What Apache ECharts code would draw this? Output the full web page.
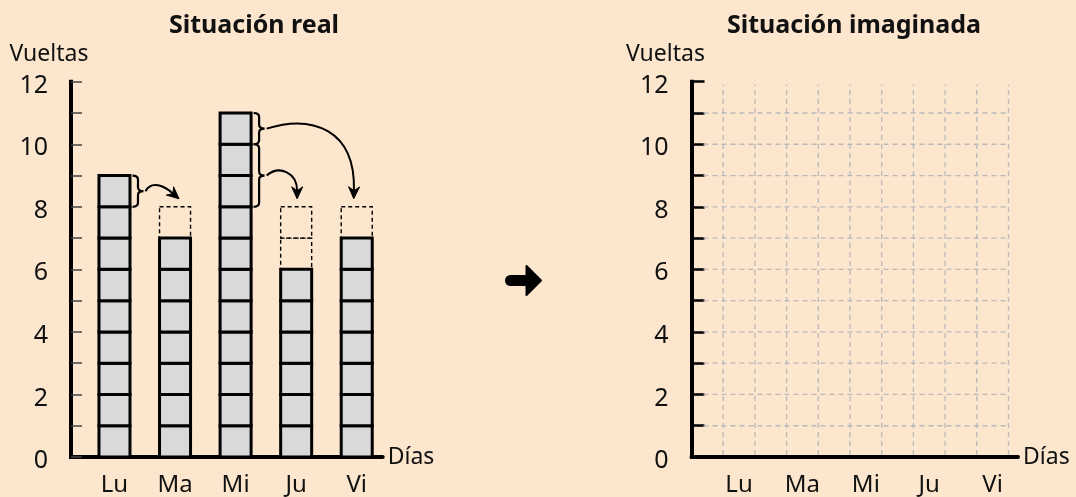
<!DOCTYPE html>
<html><head><meta charset="utf-8">
<script src="https://cdn.jsdelivr.net/npm/echarts@6/dist/echarts.min.js"></script>
<style>html,body{margin:0;padding:0;background:#fce6cd;} #c{width:1076px;height:497px;}</style>
</head><body><div id="c"></div>
<script>
// ---- data ----
const days = ['Lu', 'Ma', 'Mi', 'Ju', 'Vi'];
const realLaps = [9, 7, 11, 6, 7];
const imaginedLaps = [8, 8, 8, 8, 8];
// [fromDay, fromLow, fromHigh, toDay]
const transfers = [
  ['Lu', 8, 9, 'Ma'],
  ['Mi', 10, 11, 'Vi'],
  ['Mi', 8, 10, 'Ju']
];
const yTickLabels = [0, 2, 4, 6, 8, 10, 12];
const gridRows = [1, 2, 3, 4, 5, 6, 7, 8, 9, 10, 11];
const gridCols = [1, 2, 3, 4, 5, 6, 7, 8, 9, 10];

// ---- styles ----
const SANS = "'Noto Sans','Open Sans',sans-serif";
const INK = '#111';
const BAR_RATIO = 0.512;

const chart = echarts.init(document.getElementById('c'), null, {renderer: 'canvas'});

function yAxisCfg(gridIndex, tickColor, tickWidth, tickLen, namePad) {
  return {
    gridIndex, type: 'value', min: 0, max: 12, interval: 1,
    name: 'Vueltas', nameLocation: 'end', nameGap: 16,
    nameTextStyle: {fontFamily: SANS, fontSize: 23, color: INK, align: 'center', padding: [0, namePad, 0, 0]},
    axisLine: {show: true, lineStyle: {color: '#000', width: 4, cap: 'square'}},
    axisTick: {show: true, inside: true, length: tickLen, lineStyle: {color: tickColor, width: tickWidth}},
    axisLabel: {margin: 23, color: INK,
      formatter: v => yTickLabels.includes(v) ? '{n|' + v + '}' : '',
      rich: {n: {fontFamily: SANS, fontSize: 25, color: INK, padding: [8, 0, 0, 0]}}},
    splitLine: {show: false}
  };
}

function xAxisCfg(gridIndex, min, max, labelPositions, toIndex) {
  return {
    gridIndex, type: 'value', min, max,
    name: 'Días', nameLocation: 'end', nameGap: 5,
    nameTextStyle: {fontFamily: SANS, fontSize: 23, color: INK, verticalAlign: 'middle'},
    axisLine: {show: true, onZero: false, lineStyle: {color: '#000', width: 4}},
    axisTick: {show: false},
    splitLine: {show: false},
    axisLabel: {customValues: labelPositions, margin: 16, fontFamily: SANS, fontSize: 24, color: INK,
      formatter: v => days[toIndex(v)] || ''}
  };
}

const leftPositions = days.map((d, i) => i + 1);
const rightPositions = days.map((d, i) => 2 * i + 1.5);

// curve shapes for the transfer arrows (style offsets, px)
const arrowShapes = [
  {endDx: 4, c1: [6, -11], c2: [-15, -13]},
  {endDx: -3, c1: [45, -14], c2: [2, -70]},
  {endDx: 1, c1: [13, -11], c2: [0, -26]}
];

const option = {
  backgroundColor: '#fce6cd',
  animation: false,
  title: [
    {text: 'Situación real', left: 249, top: 8, textAlign: 'center',
      textStyle: {fontFamily: SANS, fontWeight: 'bold', fontSize: 25, color: INK}},
    {text: 'Situación imaginada', left: 849, top: 8, textAlign: 'center',
      textStyle: {fontFamily: SANS, fontWeight: 'bold', fontSize: 25, color: INK}}
  ],
  grid: [
    {left: 71, right: 1076 - 382.7, top: 81.7, bottom: 35, containLabel: false},
    {left: 691.5, right: 58, top: 81.7, bottom: 35, containLabel: false}
  ],
  xAxis: [
    xAxisCfg(0, 0.282, 5.429, leftPositions, v => Math.round(v) - 1),
    xAxisCfg(1, 0, 10.3, rightPositions, v => Math.round((v - 1.5) / 2))
  ],
  yAxis: [
    yAxisCfg(0, '#444', 1.5, 11, 44),
    yAxisCfg(1, '#000', 2.5, 13, 52)
  ],
  graphic: [
    {type: 'group', left: 505, top: 265, children: [
      {type: 'rect', shape: {x: 0, y: 10, width: 25, height: 11, r: 5.5}, style: {fill: '#000'}},
      {type: 'polygon', shape: {points: [[21.5, 1], [36, 15.5], [21.5, 30]]},
        style: {fill: '#000', stroke: '#000', lineWidth: 2, lineJoin: 'round'}}
    ]}
  ],
  series: [
    {
      type: 'custom', xAxisIndex: 0, yAxisIndex: 0, clip: false, z: 3,
      data: days.map((d, i) => [i + 1, realLaps[i], imaginedLaps[i]]),
      renderItem(params, api) {
        const x = api.value(0), real = api.value(1), target = api.value(2);
        const bw = api.size([1, 0])[0] * BAR_RATIO;
        const children = [];
        for (let k = real; k < target; k++) {
          const p0 = api.coord([x, k]), p1 = api.coord([x, k + 1]);
          children.push({type: 'rect', shape: {x: p0[0] - bw / 2, y: p1[1], width: bw, height: p0[1] - p1[1]},
            style: {fill: null, stroke: '#000', lineWidth: 1.4, lineDash: [4, 3]}});
        }
        for (let k = 0; k < real; k++) {
          const p0 = api.coord([x, k]), p1 = api.coord([x, k + 1]);
          children.push({type: 'rect', shape: {x: p0[0] - bw / 2, y: p1[1], width: bw, height: p0[1] - p1[1]},
            style: {fill: '#d9d9d9', stroke: '#000', lineWidth: 3}});
        }
        return {type: 'group', children};
      }
    },
    {
      type: 'custom', xAxisIndex: 0, yAxisIndex: 0, clip: false, z: 4,
      data: transfers.map(t => {
        const to = days.indexOf(t[3]);
        return [days.indexOf(t[0]) + 1, t[1], t[2], to + 1, imaginedLaps[to]];
      }),
      renderItem(params, api) {
        const fx = api.value(0), lo = api.value(1), hi = api.value(2), tx = api.value(3), tgt = api.value(4);
        const shp = arrowShapes[params.dataIndex];
        const bw = api.size([1, 0])[0] * BAR_RATIO;
        const pLo = api.coord([fx, lo]), pHi = api.coord([fx, hi]);
        const x0 = pLo[0] + bw / 2 + 2.5;
        const w = 11, r = 4;
        const yLo = pLo[1], yHi = pHi[1], ym = (yLo + yHi) / 2;
        const xm = x0 + w / 2;
        const brace = `M${x0} ${yHi} Q${xm} ${yHi} ${xm} ${yHi + r} L${xm} ${ym - r} Q${xm} ${ym} ${x0 + w} ${ym} ` +
          `Q${xm} ${ym} ${xm} ${ym + r} L${xm} ${yLo - r} Q${xm} ${yLo} ${x0} ${yLo}`;
        const S = [x0 + w + 2, ym];
        const pT = api.coord([tx, tgt]);
        const E = [pT[0] + shp.endDx, pT[1] - 8];
        const c1 = [S[0] + shp.c1[0], S[1] + shp.c1[1]];
        const c2 = [E[0] + shp.c2[0], E[1] + shp.c2[1]];
        let dx = E[0] - c2[0], dy = E[1] - c2[1];
        const len = Math.hypot(dx, dy); dx /= len; dy /= len;
        const nx = -dy, ny = dx;
        const L = 12, hw = 5.5, notch = 8;
        const B = [E[0] - dx * notch, E[1] - dy * notch];
        const head = [
          E,
          [E[0] - dx * L + nx * hw, E[1] - dy * L + ny * hw],
          B,
          [E[0] - dx * L - nx * hw, E[1] - dy * L - ny * hw]
        ];
        return {type: 'group', children: [
          {type: 'path', shape: {pathData: brace}, style: {fill: null, stroke: '#000', lineWidth: 2.2}},
          {type: 'bezierCurve', shape: {x1: S[0], y1: S[1], cpx1: c1[0], cpy1: c1[1], cpx2: c2[0], cpy2: c2[1], x2: B[0], y2: B[1]},
            style: {fill: null, stroke: '#000', lineWidth: 2}},
          {type: 'polygon', shape: {points: head}, style: {fill: '#000', stroke: '#000', lineWidth: 1}}
        ]};
      }
    },
    {
      type: 'custom', xAxisIndex: 1, yAxisIndex: 1, clip: false, z: 1,
      data: gridRows.map(v => [v]),
      renderItem(params, api) {
        const v = api.value(0);
        const a = api.coord([0, v]), b = api.coord([gridCols[gridCols.length - 1], v]);
        return {type: 'line', shape: {x1: a[0] + 12, y1: a[1], x2: b[0], y2: b[1]},
          style: {stroke: '#b9b9b9', lineWidth: 1.3, lineDash: [5, 4]}};
      }
    },
    {
      type: 'custom', xAxisIndex: 1, yAxisIndex: 1, clip: false, z: 1,
      data: gridCols.map(v => [v]),
      renderItem(params, api) {
        const v = api.value(0);
        const a = api.coord([v, 0]), b = api.coord([v, 11.9]);
        return {type: 'line', shape: {x1: a[0], y1: a[1] - 2, x2: b[0], y2: b[1]},
          style: {stroke: '#b9b9b9', lineWidth: 1.3, lineDash: [5, 4]}};
      }
    }
  ]
};
chart.setOption(option);
</script>
</body></html>
